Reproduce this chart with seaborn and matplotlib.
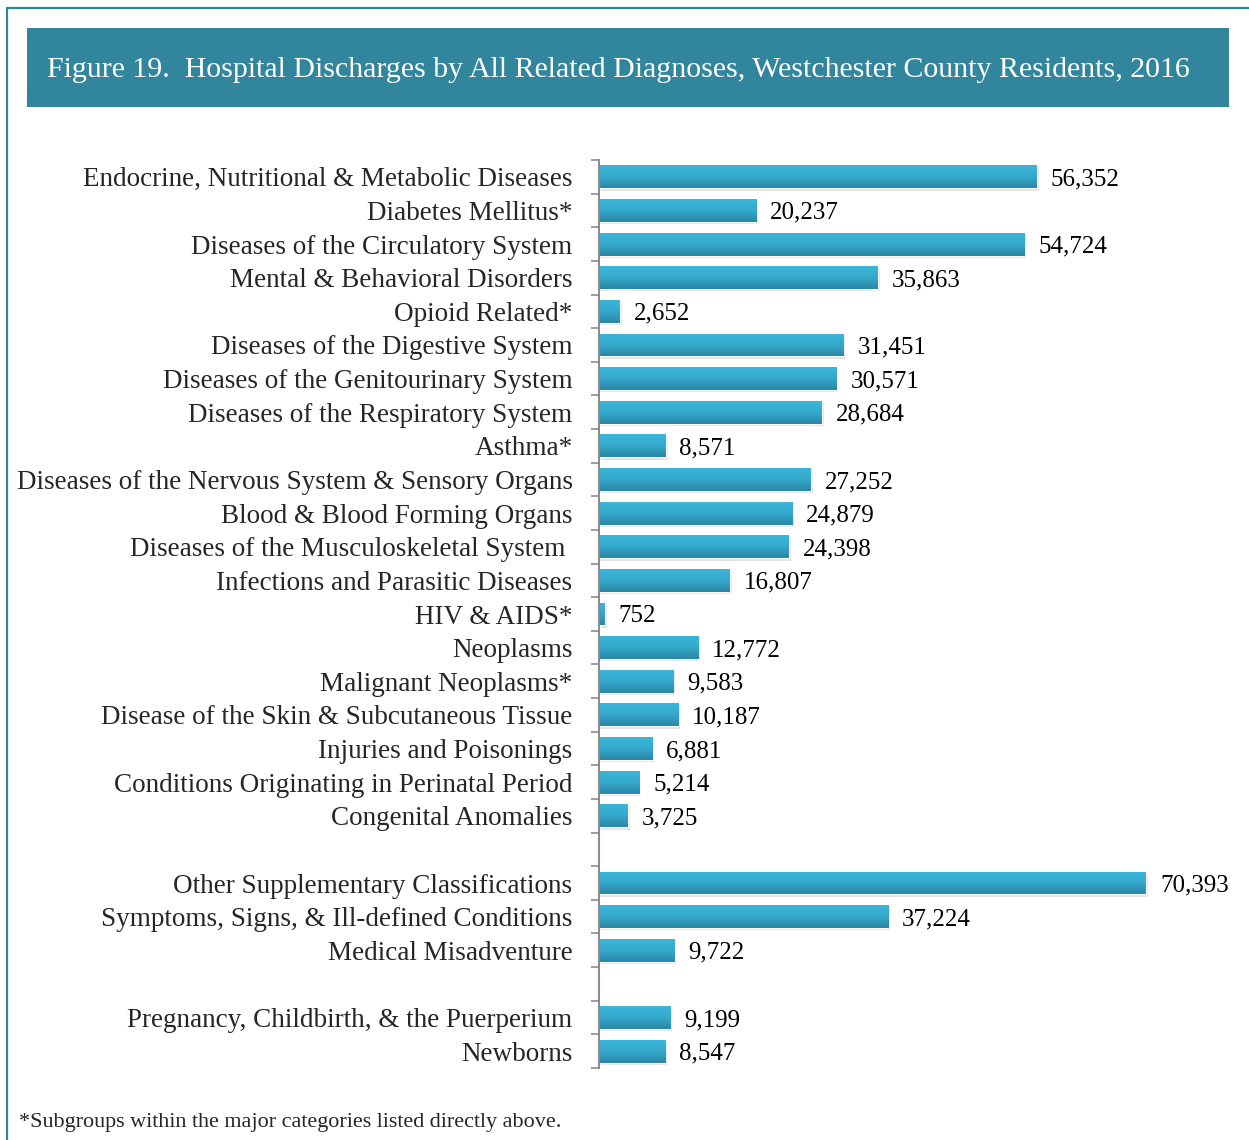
import numpy as np
import pandas as pd
import matplotlib.pyplot as plt
import seaborn as sns
from matplotlib.colors import LinearSegmentedColormap
from matplotlib.patches import Rectangle

categories = [
    "Endocrine, Nutritional & Metabolic Diseases", "Diabetes Mellitus*",
    "Diseases of the Circulatory System", "Mental & Behavioral Disorders",
    "Opioid Related*", "Diseases of the Digestive System",
    "Diseases of the Genitourinary System", "Diseases of the Respiratory System",
    "Asthma*", "Diseases of the Nervous System & Sensory Organs",
    "Blood & Blood Forming Organs", "Diseases of the Musculoskeletal System ",
    "Infections and Parasitic Diseases", "HIV & AIDS*", "Neoplasms",
    "Malignant Neoplasms*", "Disease of the Skin & Subcutaneous Tissue",
    "Injuries and Poisonings", "Conditions Originating in Perinatal Period",
    "Congenital Anomalies",
    "Other Supplementary Classifications", "Symptoms, Signs, & Ill-defined Conditions",
    "Medical Misadventure",
    "Pregnancy, Childbirth, & the Puerperium", "Newborns",
]
values = [56352, 20237, 54724, 35863, 2652, 31451, 30571, 28684, 8571, 27252,
          24879, 24398, 16807, 752, 12772, 9583, 10187, 6881, 5214, 3725,
          70393, 37224, 9722, 9199, 8547]
# empty slots between the groups
order = categories[:20] + ["_gap1"] + categories[20:23] + ["_gap2"] + categories[23:]

df = pd.DataFrame({"diagnosis": categories, "discharges": values})

sns.set_style("white")
plt.rcParams["font.family"] = ["Liberation Serif", "DejaVu Serif"]

fig = plt.figure(figsize=(12.49, 11.4), dpi=100)
W, H = 1249, 1140

# outer frame and title banner
fig.add_artist(plt.Line2D([7 / W, 7 / W], [0, 1 - 8 / H], color="#31849b", lw=1.6))
fig.add_artist(plt.Line2D([7 / W, 1], [1 - 8 / H, 1 - 8 / H], color="#31849b", lw=1.6))
fig.add_artist(Rectangle((27 / W, 1 - 107 / H), 1202 / W, 79 / H,
                         transform=fig.transFigure, color="#31859c", lw=0))
fig.text(47 / W, 1 - 70 / H,
         "Figure 19.  Hospital Discharges by All Related Diagnoses, Westchester County Residents, 2016",
         color="white", fontsize=21.5, va="center", ha="left")

ax = fig.add_axes([599 / W, 1 - 1068 / H, 630 / W, 908 / H])
sns.barplot(data=df, y="diagnosis", x="discharges", order=order, orient="h",
            color="#33a7cb", width=0.68, saturation=1, ax=ax)

xmax = 630 / 547 * 70393
ax.set_xlabel("")
ax.set_ylabel("")
ax.set_xticks([])
ax.set_yticks(range(len(order)))
ax.set_yticklabels([c if not c.startswith("_gap") else "" for c in order], fontsize=19.5)
ax.set_yticks(np.arange(-0.5, len(order)), minor=True)
ax.tick_params(axis="y", which="major", left=False, length=0, pad=19)
ax.tick_params(axis="y", which="minor", left=True, length=5.5, width=1.2, color="#8c8c8c")
for side in ["top", "right", "bottom"]:
    ax.spines[side].set_visible(False)
ax.spines["left"].set_color("#8c8c8c")
ax.spines["left"].set_linewidth(1.5)

# gradient fill and soft shadow on the bars
cmap = LinearSegmentedColormap.from_list("bar", ["#3ab6da", "#35a9cc", "#2a87a5"])
grad = np.linspace(0, 1, 64).reshape(-1, 1)
bars = [p for p in ax.patches if p.get_width() > 0]
for p in bars:
    x0, y0, w, h = p.get_x(), p.get_y(), p.get_width(), p.get_height()
    ax.add_patch(Rectangle((x0 + 250, y0 + 0.07), w, h, color="#cfcfcf",
                           alpha=0.6, lw=0, zorder=0.5))
    im = ax.imshow(grad, cmap=cmap, aspect="auto", extent=[x0, x0 + w, y0 + h, y0],
                   zorder=p.get_zorder() + 0.1)
    im.set_clip_path(p)
ax.set_xlim(0, xmax)
ax.set_ylim(len(order) - 0.5, -0.5)

cont = ax.containers[0]
labels = [f"{v:,.0f}" if v > 0 else "" for v in np.nan_to_num(cont.datavalues)]
for t in ax.bar_label(cont, labels=labels, padding=10, fontsize=18, color="black"):
    t.set_va("center_baseline")

fig.text(19 / W, 1 - 1123 / H, "*Subgroups within the major categories listed directly above.",
         fontsize=15.9, va="center", ha="left")

fig.savefig("out.png", dpi=100)
